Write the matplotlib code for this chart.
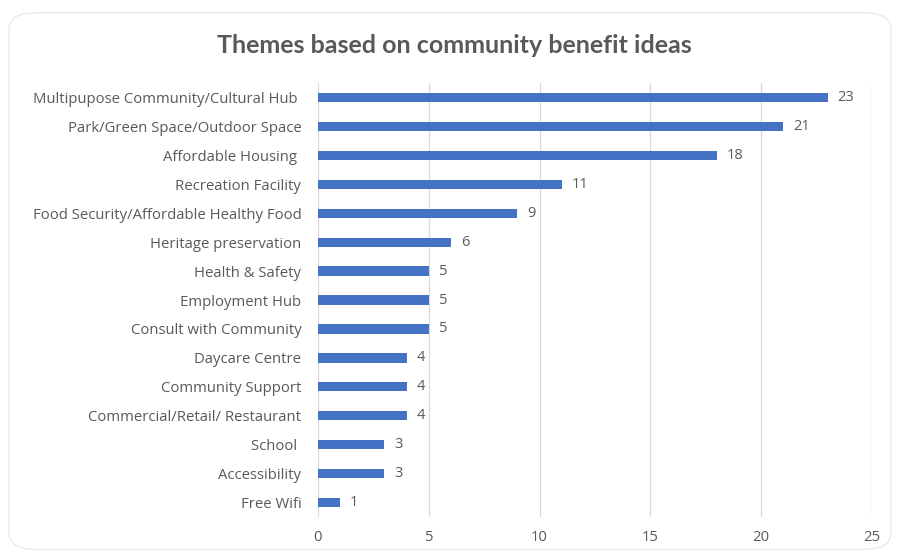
import matplotlib.pyplot as plt
from matplotlib.patches import FancyBboxPatch

# Community benefit themes and how many ideas mentioned each
themes = ["Multipupose Community/Cultural Hub ", "Park/Green Space/Outdoor Space",
          "Affordable Housing ", "Recreation Facility", "Food Security/Affordable Healthy Food",
          "Heritage preservation", "Health & Safety", "Employment Hub",
          "Consult with Community", "Daycare Centre", "Community Support",
          "Commercial/Retail/ Restaurant", "School ", "Accessibility", "Free Wifi"]
counts = [23, 21, 18, 11, 9, 6, 5, 5, 5, 4, 4, 4, 3, 3, 1]
x_ticks = [0, 5, 10, 15, 20, 25]

bar_color = "#4472C4"
text_color = "#595959"
grid_color = "#D9D9D9"

plt.rcParams["font.family"] = ["Open Sans", "DejaVu Sans"]

fig = plt.figure(figsize=(9, 5.56), dpi=100)
ax = fig.add_axes([0.3533, 0.0701, 0.6156, 0.7806])

# rounded chart border
border = FancyBboxPatch((0.010, 0.012), 0.980, 0.965, boxstyle="round,pad=0,rounding_size=0.03",
                        transform=fig.transFigure, facecolor="none", edgecolor="#E6E6E6",
                        linewidth=0.8, zorder=0)
fig.patches.append(border)

pos = list(range(len(themes)))
bars = ax.barh(pos, counts, height=0.32, color=bar_color, zorder=3)
for p, v in zip(pos, counts):
    ax.text(v + 0.45, p, str(v), va="center", ha="left", fontsize=10.5, color=text_color)

ax.set_ylim(len(themes) - 0.5, -0.5)
ax.set_xlim(0, 25)
ax.set_xticks(x_ticks)
ax.set_yticks(pos)
ax.set_yticklabels(themes)
ax.tick_params(axis="both", length=0, colors=text_color, labelsize=10.7)
ax.tick_params(axis="y", pad=12)
ax.tick_params(axis="x", pad=9)
ax.xaxis.grid(True, color=grid_color, linewidth=0.9, zorder=0)
ax.set_axisbelow(True)
for s in ax.spines.values():
    s.set_visible(False)

fig.text(0.505, 0.918, "Themes based on community benefit ideas", ha="center", va="center",
         fontsize=18, fontweight="bold", color=text_color, family=["Lato", "DejaVu Sans"])

plt.savefig("out.png", dpi=100)
